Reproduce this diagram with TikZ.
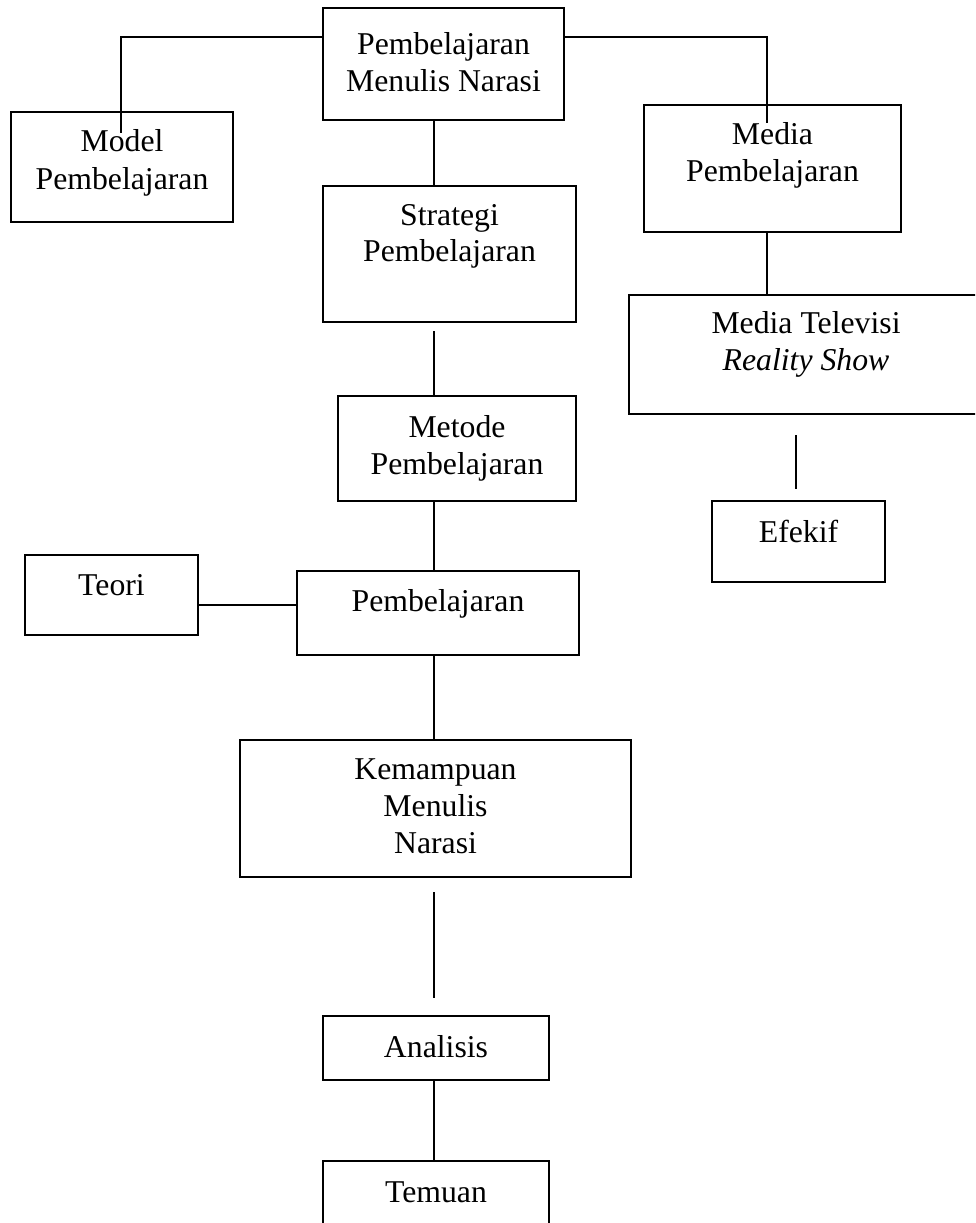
\documentclass[tikz,border=0pt]{standalone}
\usepackage{fontspec}
\setmainfont{Liberation Serif}
\usetikzlibrary{calc}
\newcommand\mybox[5]{\node[box, minimum width={(#4-#2)*0.75pt}, minimum height={(#5-#3)*0.75pt}] (#1) at ({(#2+#4)/2},{(#3+#5)/2}) {};}
\begin{document}
\begin{tikzpicture}[x=0.75pt,y=-0.75pt,
  box/.style={draw=black, line width=1.4pt, inner sep=0pt, outer sep=0pt, fill=white},
  txt/.style={anchor=base, inner sep=0pt, font=\fontsize{23.8}{28}\selectfont},
  conn/.style={draw=black, line width=1.3pt}]
\useasboundingbox (0,0) rectangle (975,1223);
\clip (0,0) rectangle (975,1223);
\fill[white] (0,0) rectangle (975,1223);
% helper coordinates
\coordinate (cx) at (434,0);
\coordinate (lineL) at (121,37);
\coordinate (mEnd) at (121,133);
\coordinate (rEnd) at (767,123);
\coordinate (efx) at (796,0);
\coordinate (tl) at (0,605);
% connectors behind boxes where lines enter boxes
\draw[conn] (lineL -| 323,0) -| (mEnd);
\draw[conn] (lineL -| 564,0) -| (rEnd);
% boxes
\mybox{top}{323}{8}{564}{120}
\mybox{model}{11}{112}{233}{222}
\mybox{media}{644}{105}{901}{232}
\mybox{strat}{323}{186}{576}{322}
\mybox{tv}{629}{295}{983}{414}
\mybox{metode}{338}{396}{576}{501}
\mybox{efek}{712}{501}{885}{582}
\mybox{teori}{25}{555}{198}{635}
\mybox{pemb}{297}{571}{579}{655}
\mybox{kemam}{240}{740}{631}{877}
\mybox{anal}{323}{1016}{549}{1080}
\mybox{temu}{323}{1161}{549}{1280}
% lines that go through box tops (drawn over)
\draw[conn] (lineL -| top.west) -| (mEnd);
\draw[conn] (lineL -| top.east) -| (rEnd);
% other connectors
\draw[conn] (top.south -| cx) -- (strat.north -| cx);
\draw[conn, shorten <=6.75pt] (strat.south -| cx) -- (metode.north -| cx);
\draw[conn] (metode.south -| cx) -- (pemb.north -| cx);
\draw[conn] (tl -| teori.east) -- (tl -| pemb.west);
\draw[conn] (pemb.south -| cx) -- (kemam.north -| cx);
\draw[conn, shorten <=11.25pt, shorten >=13.5pt] (kemam.south -| cx) -- (anal.north -| cx);
\draw[conn] (anal.south -| cx) -- (temu.north -| cx);
\draw[conn] (media.south -| rEnd) -- (tv.north -| rEnd);
\draw[conn, shorten <=15.75pt, shorten >=9pt] (tv.south -| efx) -- (efek.north -| efx);
% texts
\node[txt] (top-a) at (443.5,55) {Pembelajaran};
\node[txt] (top-b) at (443.5,92) {Menulis Narasi};
\node[txt] (model-a) at (122,152) {Model};
\node[txt] (model-b) at (122,190) {Pembelajaran};
\node[txt] (media-a) at (772.5,145) {Media};
\node[txt] (media-b) at (772.5,182) {Pembelajaran};
\node[txt] (strat-a) at (449.5,225) {Strategi};
\node[txt] (strat-b) at (449.5,262) {Pembelajaran};
\node[txt] (tv-a) at (806,333) {Media Televisi};
\node[txt] (tv-b) at (806,370) {\textit{Reality Show}};
\node[txt] (metode-a) at (457,437) {Metode};
\node[txt] (metode-b) at (457,474) {Pembelajaran};
\node[txt] (efek-a) at (798.5,542) {Efekif};
\node[txt] (teori-a) at (111.5,595) {Teori};
\node[txt] (pemb-a) at (438,611) {Pembelajaran};
\node[txt] (kemam-a) at (435.5,779) {Kemampuan};
\node[txt] (kemam-b) at (435.5,816) {Menulis};
\node[txt] (kemam-c) at (435.5,853) {Narasi};
\node[txt] (anal-a) at (436,1057) {Analisis};
\node[txt] (temu-a) at (436,1202) {Temuan};
\end{tikzpicture}
\end{document}
